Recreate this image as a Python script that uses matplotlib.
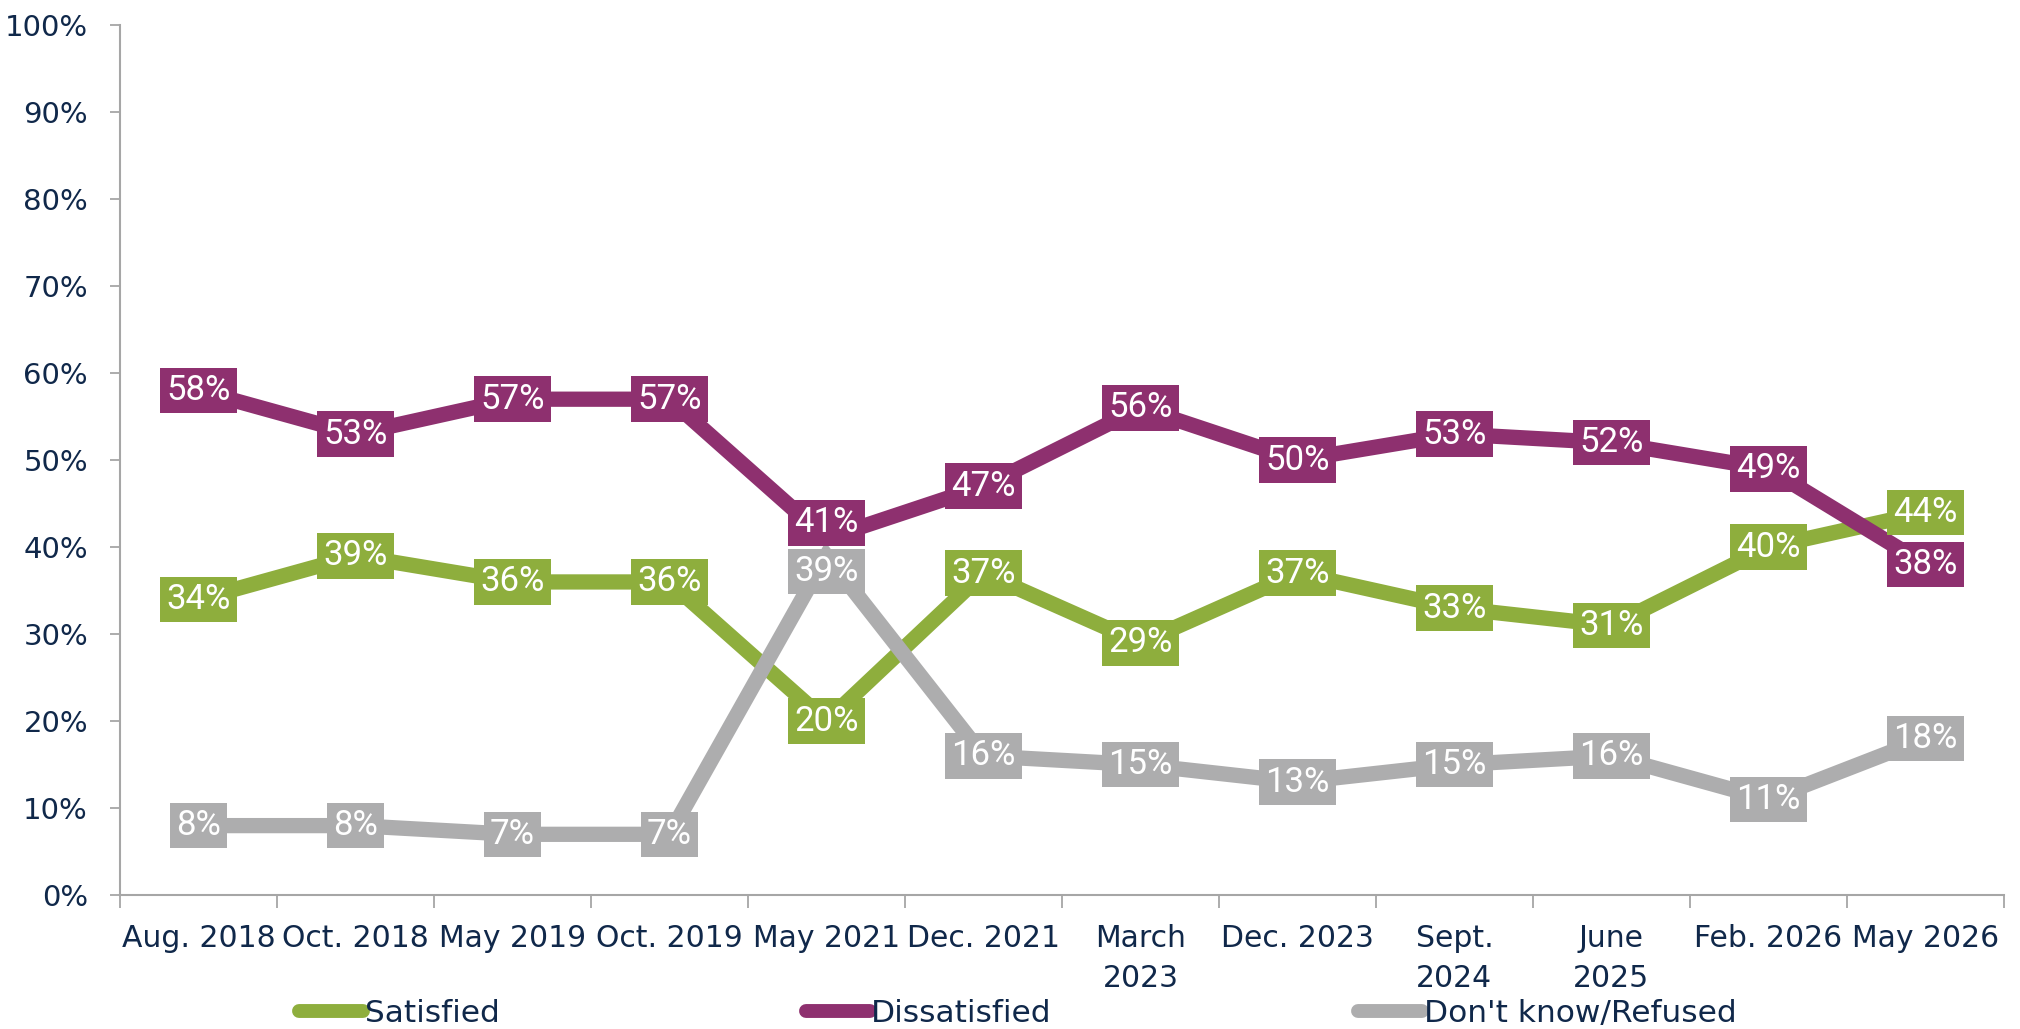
import matplotlib.pyplot as plt
from matplotlib.ticker import FixedLocator, PercentFormatter

# Dane
categories = ['Aug. 2018', 'Oct. 2018', 'May 2019', 'Oct. 2019', 'May 2021', 'Dec. 2021',
              'March\n2023', 'Dec. 2023', 'Sept.\n2024', 'June\n2025', 'Feb. 2026', 'May 2026']
satisfied = [34, 39, 36, 36, 20, 37, 29, 37, 33, 31, 40, 44]
dissatisfied = [58, 53, 57, 57, 41, 47, 56, 50, 53, 52, 49, 38]
dont_know = [8, 8, 7, 7, 39, 16, 15, 13, 15, 16, 11, 18]
series_names = ['Satisfied', 'Dissatisfied', "Don't know/Refused"]
y_ticks = [0, 10, 20, 30, 40, 50, 60, 70, 80, 90, 100]

colors = ['#8EAE3D', '#8E306F', '#ADADAE']
text_color = '#10284A'
axis_color = '#A6A6A6'

plt.rcParams['font.family'] = ['DejaVu Sans']
label_font = ['Roboto', 'DejaVu Sans']

fig = plt.figure(figsize=(20.2, 10.29), dpi=100)
ax = fig.add_axes([0.0594, 0.130, 0.9326, 0.8457])

x = list(range(len(categories)))
all_series = [satisfied, dissatisfied, dont_know]

# Linie
for i, (vals, name) in enumerate(zip(all_series, series_names)):
    ax.plot(x, vals, color=colors[i], linewidth=11, label=name, zorder=2 + i,
            solid_joinstyle='miter')

# Pozycje etykiet - rozsuwanie nakladajacych sie ramek (jak w Excelu)
box_h = 5.6  # wysokosc ramki w jednostkach osi (%)
label_y = [list(map(float, vals)) for vals in all_series]
for xi in x:
    for a in range(len(all_series)):
        for b in range(a + 1, len(all_series)):
            d = label_y[a][xi] - label_y[b][xi]
            if abs(d) < box_h:
                shift = (box_h - abs(d)) / 2
                sign = 1 if d >= 0 else -1
                label_y[a][xi] += sign * shift
                label_y[b][xi] -= sign * shift

# Etykiety danych w kolorowych ramkach
for i, vals in enumerate(all_series):
    for xi, v in zip(x, vals):
        ax.text(xi, label_y[i][xi], f'{v}%', ha='center', va='center', color='white',
                fontsize=25, family=label_font, zorder=10 + i,
                bbox=dict(boxstyle='square,pad=0.18', fc=colors[i], ec='none'))

ax.set_xlim(-0.5, len(categories) - 0.5)
ax.set_ylim(0, 100)

ax.yaxis.set_major_locator(FixedLocator(y_ticks))
ax.yaxis.set_major_formatter(PercentFormatter(decimals=0))
ax.set_xticks(x)
ax.set_xticklabels(categories, linespacing=1.45)
ax.xaxis.set_minor_locator(FixedLocator([k - 0.5 for k in range(len(categories) + 1)]))

ax.tick_params(axis='x', which='major', length=0, pad=21, labelsize=21.5, labelcolor=text_color)
ax.tick_params(axis='x', which='minor', length=9, width=1.3, color=axis_color)
ax.tick_params(axis='y', length=7, width=1.3, color=axis_color, pad=16,
               labelsize=21, labelcolor=text_color)

for side in ['top', 'right']:
    ax.spines[side].set_visible(False)
for side in ['left', 'bottom']:
    ax.spines[side].set_color(axis_color)
    ax.spines[side].set_linewidth(1.5)

leg = fig.legend(loc='center left', bbox_to_anchor=(0.148, 0.0155), ncol=3,
                 frameon=False, fontsize=22.5, handlelength=2.05, handletextpad=0.05,
                 columnspacing=9.8, borderpad=0, borderaxespad=0)
for line in leg.get_lines():
    line.set_linewidth(10)
    line.set_solid_capstyle('round')
for t in leg.get_texts():
    t.set_color(text_color)

fig.savefig('out.png', dpi=100)
